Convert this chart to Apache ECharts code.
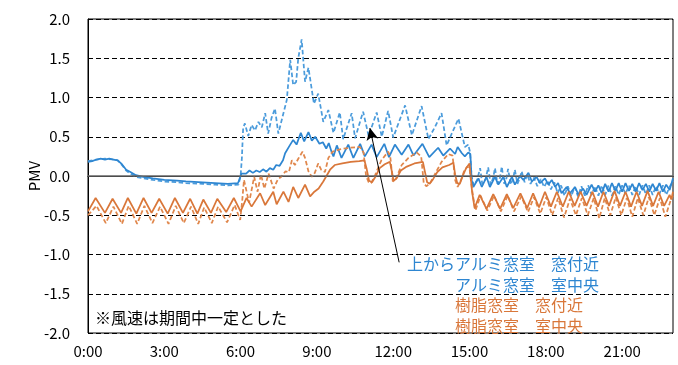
<!DOCTYPE html>
<html>
<head>
<meta charset="utf-8">
<script src="https://cdn.jsdelivr.net/npm/echarts@6/dist/echarts.min.js"></script>
<style>
  html, body { margin: 0; padding: 0; background: #fff; }
  #chart { width: 678px; height: 365px; }
</style>
</head>
<body>
<div id="chart"></div>
<script>
// PMV over one day; each point is [minutes after 0:00, PMV]
const tickHours = ['0:00', '3:00', '6:00', '9:00', '12:00', '15:00', '18:00', '21:00'];

// アルミ窓室 窓付近
const aluWindow = [[0,0.19],[20,0.21],[40,0.22],[60,0.21],[70,0.2],[80,0.14],[90,0.07],[100,0.03],[113,-0.01],[130,-0.03],[153,-0.05],[180,-0.07],[210,-0.08],[231,-0.09],[270,-0.1],[300,-0.11],[330,-0.12],[355,-0.11],[360,0.0],[363,0.23],[366,0.61],[370,0.67],[378,0.51],[386,0.65],[394,0.58],[402,0.69],[410,0.62],[418,0.8],[425,0.54],[433,0.74],[441,0.86],[449,0.54],[461,0.8],[469,0.97],[477,1.48],[484,1.16],[491,1.2],[496,1.5],[504,1.74],[512,1.2],[520,1.38],[524,1.36],[533,0.92],[543,1.05],[555,0.69],[567,0.84],[579,0.55],[594,0.81],[602,0.47],[622,0.8],[630,0.48],[649,0.82],[662,0.51],[681,0.81],[693,0.5],[708,0.83],[720,0.49],[748,0.9],[764,0.52],[787,0.89],[803,0.47],[819,0.63],[834,0.8],[846,0.39],[858,0.54],[874,0.73],[889,0.37],[897,0.4],[901,0.31],[905,-0.01],[910,-0.12],[918,-0.05],[925,0.1],[930,-0.1],[938,-0.04],[944,0.11],[950,-0.11],[956,-0.02],[960,0.1],[966,-0.1],[972,-0.02],[976,0.12],[982,-0.1],[987,-0.03],[991,0.09],[997,-0.11],[1003,-0.03],[1007,0.08],[1013,-0.1],[1019,-0.02],[1023,0.06],[1030,-0.08],[1036,0.02],[1044,-0.1],[1052,-0.02],[1060,-0.13],[1068,-0.04],[1076,-0.14],[1084,-0.06],[1092,-0.17],[1100,-0.08],[1108,-0.22],[1116,-0.12],[1124,-0.25],[1132,-0.13],[1140,-0.26],[1148,-0.14],[1156,-0.26],[1164,-0.13],[1172,-0.25],[1180,-0.12],[1188,-0.24],[1196,-0.13],[1204,-0.25],[1212,-0.12],[1220,-0.24],[1228,-0.12],[1236,-0.25],[1244,-0.13],[1252,-0.24],[1260,-0.12],[1268,-0.23],[1276,-0.12],[1284,-0.24],[1292,-0.13],[1300,-0.24],[1308,-0.12],[1316,-0.23],[1324,-0.12],[1332,-0.24],[1340,-0.13],[1348,-0.23],[1356,-0.12],[1364,-0.24],[1372,-0.14],[1380,-0.06]];

// アルミ窓室 室中央
const aluCenter = [[0,0.18],[10,0.19],[20,0.21],[30,0.22],[40,0.21],[50,0.22],[60,0.21],[70,0.2],[80,0.15],[90,0.08],[100,0.05],[113,0.01],[130,-0.01],[153,-0.03],[180,-0.05],[210,-0.06],[231,-0.07],[270,-0.08],[300,-0.09],[330,-0.1],[354,-0.09],[362,0.03],[366,0.055],[373,0.03],[381,0.07],[389,0.04],[397,0.07],[405,0.05],[413,0.085],[421,0.055],[429,0.1],[437,0.08],[444,0.14],[452,0.13],[460,0.2],[465,0.29],[476,0.39],[484,0.46],[492,0.4],[502,0.55],[510,0.44],[520,0.56],[528,0.45],[536,0.5],[546,0.41],[554,0.43],[562,0.35],[568,0.42],[575,0.3],[579,0.25],[587,0.39],[598,0.23],[614,0.4],[626,0.23],[642,0.41],[653,0.25],[669,0.4],[681,0.24],[699,0.41],[710,0.24],[724,0.4],[740,0.27],[756,0.4],[768,0.26],[789,0.41],[805,0.24],[826,0.36],[838,0.26],[854,0.35],[866,0.28],[872,0.37],[882,0.29],[889,0.25],[897,0.3],[902,0.28],[905,-0.05],[909,-0.14],[921,-0.03],[929,-0.14],[940,-0.01],[948,-0.14],[960,-0.01],[968,-0.11],[980,-0.01],[988,-0.14],[1000,-0.01],[1007,-0.11],[1019,0.0],[1027,-0.05],[1039,0.04],[1047,-0.07],[1058,-0.01],[1066,-0.09],[1078,-0.03],[1086,-0.11],[1094,-0.05],[1102,-0.14],[1109,-0.09],[1117,-0.22],[1129,-0.14],[1137,-0.22],[1149,-0.14],[1157,-0.24],[1168,-0.16],[1176,-0.24],[1188,-0.11],[1196,-0.2],[1204,-0.12],[1212,-0.22],[1220,-0.1],[1228,-0.2],[1236,-0.09],[1244,-0.19],[1252,-0.09],[1260,-0.2],[1268,-0.09],[1276,-0.19],[1284,-0.1],[1292,-0.2],[1300,-0.09],[1308,-0.18],[1316,-0.1],[1324,-0.2],[1332,-0.1],[1340,-0.19],[1348,-0.09],[1356,-0.2],[1364,-0.11],[1372,-0.18],[1380,-0.03]];

// 樹脂窓室 窓付近
const resinWindow = [[0,-0.5],[20,-0.38],[42,-0.6],[60,-0.39],[80,-0.61],[96,-0.38],[116,-0.61],[133,-0.38],[152,-0.6],[170,-0.39],[190,-0.61],[207,-0.38],[226,-0.6],[243,-0.39],[260,-0.61],[274,-0.4],[292,-0.6],[307,-0.39],[328,-0.59],[346,-0.37],[359,-0.56],[364,-0.3],[368,-0.05],[380,-0.34],[392,-0.01],[400,-0.2],[408,0.02],[416,-0.16],[426,0.03],[438,-0.16],[448,-0.04],[456,-0.01],[466,0.06],[474,0.05],[481,0.2],[488,0.14],[496,0.22],[506,0.31],[512,0.23],[520,0.06],[528,-0.01],[535,0.04],[543,0.16],[550,0.08],[559,0.05],[567,0.23],[577,0.31],[594,0.34],[618,0.36],[641,0.37],[650,0.3],[656,0.0],[662,-0.08],[668,-0.09],[678,0.02],[692,0.2],[708,0.31],[713,0.25],[719,-0.07],[726,-0.04],[740,0.14],[756,0.23],[775,0.3],[786,0.25],[792,-0.09],[798,-0.13],[806,-0.1],[819,0.03],[834,0.18],[850,0.28],[860,0.26],[866,-0.05],[872,-0.14],[880,-0.05],[887,0.06],[895,0.12],[900,0.1],[903,-0.05],[908,-0.25],[914,-0.44],[926,-0.25],[942,-0.44],[958,-0.25],[974,-0.45],[990,-0.25],[1005,-0.45],[1022,-0.26],[1038,-0.46],[1052,-0.27],[1067,-0.48],[1081,-0.27],[1095,-0.5],[1109,-0.28],[1123,-0.53],[1137,-0.29],[1151,-0.5],[1165,-0.28],[1179,-0.5],[1193,-0.28],[1206,-0.54],[1219,-0.28],[1232,-0.5],[1245,-0.27],[1258,-0.5],[1271,-0.28],[1284,-0.52],[1297,-0.28],[1310,-0.5],[1323,-0.27],[1336,-0.5],[1349,-0.28],[1362,-0.52],[1375,-0.3],[1380,-0.25]];

// 樹脂窓室 室中央
const resinCenter = [[0,-0.45],[18,-0.28],[40,-0.47],[58,-0.29],[78,-0.47],[94,-0.28],[114,-0.48],[131,-0.28],[150,-0.47],[168,-0.29],[188,-0.48],[205,-0.28],[224,-0.47],[241,-0.29],[258,-0.48],[272,-0.3],[290,-0.47],[305,-0.29],[326,-0.46],[344,-0.28],[360,-0.45],[374,-0.28],[386,-0.39],[406,-0.22],[418,-0.37],[437,-0.2],[445,-0.36],[461,-0.2],[473,-0.33],[484,-0.14],[496,-0.28],[512,-0.11],[524,-0.26],[534,-0.2],[544,-0.16],[555,-0.07],[571,0.08],[582,0.14],[600,0.16],[620,0.18],[640,0.19],[652,0.2],[657,0.1],[663,-0.06],[670,-0.08],[678,-0.01],[688,0.1],[700,0.15],[712,0.18],[716,0.08],[721,-0.06],[728,-0.03],[738,0.07],[752,0.12],[770,0.16],[790,0.18],[795,0.05],[800,-0.08],[806,-0.1],[814,-0.04],[824,0.05],[836,0.11],[852,0.14],[862,0.17],[866,0.02],[871,-0.09],[877,-0.1],[884,0.0],[892,0.1],[900,0.16],[903,0.17],[906,-0.2],[912,-0.41],[924,-0.24],[940,-0.42],[956,-0.23],[972,-0.42],[988,-0.23],[1003,-0.41],[1020,-0.22],[1036,-0.41],[1050,-0.22],[1064,-0.4],[1078,-0.2],[1092,-0.39],[1106,-0.2],[1120,-0.39],[1134,-0.2],[1148,-0.38],[1162,-0.2],[1176,-0.38],[1190,-0.2],[1203,-0.39],[1216,-0.2],[1229,-0.38],[1242,-0.19],[1255,-0.38],[1268,-0.2],[1281,-0.39],[1294,-0.2],[1307,-0.38],[1320,-0.19],[1333,-0.38],[1346,-0.2],[1359,-0.38],[1372,-0.24],[1376,-0.3],[1380,-0.2]];

// Arrow from the series captions up to the curves: [minutes, PMV]
const arrowFrom = [734, -1.10];
const arrowTo = [665, 0.61];

const captionBlue = ['上からアルミ窓室　窓付近', 'アルミ窓室　室中央'];
const captionOrange = ['樹脂窓室　窓付近', '樹脂窓室　室中央'];
const note = '※風速は期間中一定とした';

const BLUE = '#2E86D1';
const BLUE_LIGHT = '#4C9CDC';
const ORANGE = '#D9773A';
const ORANGE_LIGHT = '#E0874C';
const FONT = '"Noto Sans CJK JP", "Noto Sans", sans-serif';

const chart = echarts.init(document.getElementById('chart'), null, { renderer: 'canvas' });

function lineSeries(name, data, color, dashed) {
  return {
    name, type: 'line', data,
    symbol: 'none', animation: false,
    lineStyle: { color, width: 1.75, type: dashed ? [4.5, 2.5] : 'solid' },
    emphasis: { disabled: true }
  };
}

const series = [
  lineSeries('アルミ窓室 窓付近', aluWindow, BLUE_LIGHT, true),
  lineSeries('アルミ窓室 室中央', aluCenter, BLUE, false),
  lineSeries('樹脂窓室 窓付近', resinWindow, ORANGE_LIGHT, true),
  lineSeries('樹脂窓室 室中央', resinCenter, ORANGE, false)
];
// zero reference line, under the curves
series[0].markLine = {
  silent: true, symbol: 'none', animation: false,
  label: { show: false },
  lineStyle: { color: '#666', width: 1.5, type: 'solid' },
  data: [{ yAxis: 0 }]
};
// annotation arrow, on top of everything
series.push({
  type: 'line', data: [], symbol: 'none', silent: true, animation: false,
  markLine: {
    silent: true, animation: false,
    symbol: ['none', 'arrow'], symbolSize: [9, 12],
    label: { show: false },
    lineStyle: { color: '#000', width: 1, type: 'solid' },
    data: [[{ coord: arrowFrom }, { coord: arrowTo }]]
  }
});

const textStyle = (text, x, y, color) => ({
  type: 'text', z: 100,
  style: { text, x, y, fill: color, font: '16px ' + FONT, verticalAlign: 'middle', textAlign: 'left' }
});

chart.setOption({
  backgroundColor: '#fff',
  animation: false,
  textStyle: { fontFamily: FONT },
  grid: { left: 88, top: 19, right: 5, bottom: 32, show: true, borderColor: '#000', borderWidth: 1 },
  xAxis: {
    type: 'value', min: 0, max: 1380, interval: 180,
    axisLine: { show: true, lineStyle: { color: '#000', width: 1 } },
    axisTick: { show: false },
    splitLine: { show: false },
    axisLabel: {
      color: '#000', fontSize: 15, margin: 11, showMaxLabel: false,
      formatter: v => tickHours[Math.round(v / 180)] || ''
    }
  },
  yAxis: {
    type: 'value', min: -2, max: 2, interval: 0.5,
    name: 'PMV', nameLocation: 'middle', nameGap: 46, nameMoveOverlap: false,
    nameTextStyle: { color: '#000', fontSize: 15 },
    axisLine: { show: true, lineStyle: { color: '#000', width: 1 } },
    axisTick: { show: false },
    splitLine: { show: true, lineStyle: { color: '#000', width: 1, type: [5, 3] } },
    axisLabel: { color: '#000', fontSize: 15, margin: 18, formatter: v => v.toFixed(1) }
  },
  series,
  graphic: [
    textStyle(note, 95, 318, '#000'),
    textStyle(captionBlue[0], 407, 264, BLUE),
    textStyle(captionBlue[1], 455, 284.5, BLUE),
    textStyle(captionOrange[0], 455, 305, ORANGE),
    textStyle(captionOrange[1], 455, 325.5, ORANGE)
  ]
});
</script>
</body>
</html>
